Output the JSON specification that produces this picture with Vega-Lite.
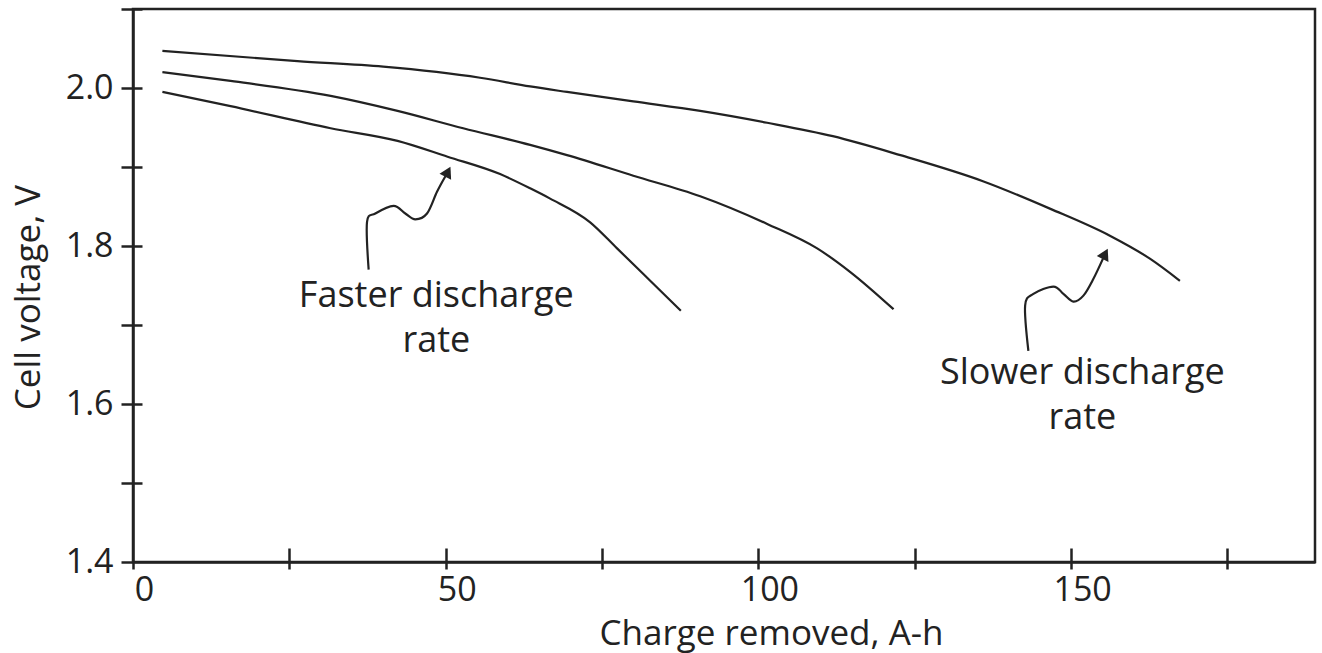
{
  "$schema": "https://vega.github.io/schema/vega-lite/v6.json",
  "width": 1182,
  "height": 553,
  "autosize": "none",
  "padding": {"left": 133, "top": 9, "right": 7, "bottom": 91},
  "background": "white",
  "config": {
    "view": {"stroke": "#222", "strokeWidth": 2.5},
    "font": "Open Sans",
    "axis": {
      "labelFont": "Open Sans", "labelFontSize": 34, "labelColor": "#222",
      "titleFont": "Open Sans", "titleFontSize": 35, "titleFontWeight": "normal", "titleColor": "#222",
      "tickColor": "#222", "tickWidth": 2.5, "domainColor": "#222", "domainWidth": 2.5,
      "grid": false, "labelOverlap": false, "labelFlush": false
    }
  },
  "datasets": {
    "curves": [
      {"series": "Slow", "x": 4.7, "y": 2.047},
      {"series": "Slow", "x": 26.3, "y": 2.034},
      {"series": "Slow", "x": 40.0, "y": 2.027},
      {"series": "Slow", "x": 55.5, "y": 2.013},
      {"series": "Slow", "x": 63.5, "y": 2.002},
      {"series": "Slow", "x": 69.4, "y": 1.995},
      {"series": "Slow", "x": 80.0, "y": 1.983},
      {"series": "Slow", "x": 90.7, "y": 1.971},
      {"series": "Slow", "x": 101.4, "y": 1.956},
      {"series": "Slow", "x": 111.9, "y": 1.939},
      {"series": "Slow", "x": 122.7, "y": 1.915},
      {"series": "Slow", "x": 135.9, "y": 1.882},
      {"series": "Slow", "x": 146.7, "y": 1.847},
      {"series": "Slow", "x": 156.2, "y": 1.813},
      {"series": "Slow", "x": 162.6, "y": 1.784},
      {"series": "Slow", "x": 167.4, "y": 1.756},
      {"series": "Mid", "x": 4.7, "y": 2.020},
      {"series": "Mid", "x": 15.6, "y": 2.009},
      {"series": "Mid", "x": 31.6, "y": 1.990},
      {"series": "Mid", "x": 42.3, "y": 1.971},
      {"series": "Mid", "x": 52.8, "y": 1.949},
      {"series": "Mid", "x": 63.5, "y": 1.928},
      {"series": "Mid", "x": 69.4, "y": 1.915},
      {"series": "Mid", "x": 80.0, "y": 1.889},
      {"series": "Mid", "x": 90.7, "y": 1.863},
      {"series": "Mid", "x": 101.4, "y": 1.828},
      {"series": "Mid", "x": 109.4, "y": 1.797},
      {"series": "Mid", "x": 114.7, "y": 1.767},
      {"series": "Mid", "x": 121.6, "y": 1.720},
      {"series": "Fast", "x": 4.7, "y": 1.995},
      {"series": "Fast", "x": 15.6, "y": 1.977},
      {"series": "Fast", "x": 31.6, "y": 1.949},
      {"series": "Fast", "x": 42.3, "y": 1.933},
      {"series": "Fast", "x": 50.3, "y": 1.913},
      {"series": "Fast", "x": 58.7, "y": 1.891},
      {"series": "Fast", "x": 63.5, "y": 1.873},
      {"series": "Fast", "x": 66.7, "y": 1.860},
      {"series": "Fast", "x": 73.1, "y": 1.830},
      {"series": "Fast", "x": 77.4, "y": 1.797},
      {"series": "Fast", "x": 82.7, "y": 1.756},
      {"series": "Fast", "x": 87.6, "y": 1.718}
    ],
    "arrows": [
      {"arrow": "A", "i": 0, "x": 37.68, "y": 1.770},
      {"arrow": "A", "i": 1, "x": 37.42, "y": 1.8305},
      {"arrow": "A", "i": 2, "x": 38.75, "y": 1.8411},
      {"arrow": "A", "i": 3, "x": 41.67, "y": 1.8509},
      {"arrow": "A", "i": 4, "x": 43.54, "y": 1.8411},
      {"arrow": "A", "i": 5, "x": 45.14, "y": 1.8338},
      {"arrow": "A", "i": 6, "x": 47.01, "y": 1.8411},
      {"arrow": "A", "i": 7, "x": 48.61, "y": 1.8687},
      {"arrow": "A", "i": 8, "x": 50.0, "y": 1.889},
      {"arrow": "B", "i": 0, "x": 143.17, "y": 1.6673},
      {"arrow": "B", "i": 1, "x": 142.65, "y": 1.7245},
      {"arrow": "B", "i": 2, "x": 143.97, "y": 1.7394},
      {"arrow": "B", "i": 3, "x": 147.17, "y": 1.7487},
      {"arrow": "B", "i": 4, "x": 148.77, "y": 1.7394},
      {"arrow": "B", "i": 5, "x": 150.37, "y": 1.7296},
      {"arrow": "B", "i": 6, "x": 151.97, "y": 1.7372},
      {"arrow": "B", "i": 7, "x": 153.57, "y": 1.7585},
      {"arrow": "B", "i": 8, "x": 155.1, "y": 1.784}
    ],
    "heads": [
      {"arrow": "A", "x": 50.35, "y": 1.894},
      {"arrow": "B", "x": 155.45, "y": 1.790}
    ],
    "labels": [
      {"x": 48.5, "y": 1.723, "text": "Faster discharge\nrate"},
      {"x": 151.8, "y": 1.625, "text": "Slower discharge\nrate"}
    ]
  },
  "resolve": {"axis": {"x": "independent", "y": "independent"}},
  "layer": [
    {
      "data": {"name": "curves"},
      "mark": {"type": "line", "color": "#222", "strokeWidth": 2.2, "interpolate": "monotone"},
      "encoding": {
        "x": {
          "field": "x", "type": "quantitative",
          "scale": {"domain": [0, 189], "nice": false, "zero": false},
          "axis": {
            "orient": "bottom",
            "values": [0, 25, 50, 75, 100, 125, 150, 175],
            "tickSize": 7, "labelPadding": 4, "labelOffset": 11,
            "labelExpr": "datum.value % 50 === 0 ? format(datum.value, 'd') : ''",
            "title": "Charge removed, A-h",
            "titleX": 638, "titleY": 54, "titleBaseline": "top", "titleAlign": "center"
          }
        },
        "y": {
          "field": "y", "type": "quantitative",
          "scale": {"domain": [1.4, 2.1], "nice": false, "zero": false},
          "axis": {
            "orient": "left",
            "values": [1.4, 1.5, 1.6, 1.7, 1.8, 1.9, 2.0, 2.1],
            "tickSize": 12, "labelPadding": 8,
            "labelExpr": "indexof(['1.4','1.6','1.8','2.0'], format(datum.value, '.1f')) >= 0 ? format(datum.value, '.1f') : ''",
            "title": "Cell voltage, V",
            "titleAngle": 270, "titleBaseline": "top", "titleAlign": "center",
            "titleX": -122, "titleY": 288
          }
        },
        "detail": {"field": "series"}
      }
    },
    {
      "data": {"name": "arrows"},
      "mark": {"type": "line", "color": "#222", "strokeWidth": 2.2, "interpolate": "cardinal"},
      "encoding": {
        "x": {
          "field": "x", "type": "quantitative",
          "axis": {
            "orient": "bottom", "offset": -14, "tickSize": 14,
            "values": [25, 50, 75, 100, 125, 150, 175],
            "labels": false, "domain": false, "title": null
          }
        },
        "y": {
          "field": "y", "type": "quantitative",
          "axis": {
            "orient": "left", "offset": -9, "tickSize": 9,
            "values": [1.5, 1.6, 1.7, 1.8, 1.9, 2.0, 2.1],
            "labels": false, "domain": false, "title": null
          }
        },
        "detail": {"field": "arrow"},
        "order": {"field": "i", "type": "quantitative"}
      }
    },
    {
      "data": {"name": "heads"},
      "mark": {"type": "point", "shape": "triangle-up", "filled": true, "color": "#222", "opacity": 1, "size": 170, "angle": 27},
      "encoding": {
        "x": {"field": "x", "type": "quantitative", "axis": null},
        "y": {"field": "y", "type": "quantitative", "axis": null}
      }
    },
    {
      "data": {"name": "labels"},
      "mark": {"type": "text", "font": "Open Sans", "fontSize": 36, "color": "#222", "align": "center", "baseline": "alphabetic", "lineBreak": "\n", "lineHeight": 45},
      "encoding": {
        "x": {"field": "x", "type": "quantitative", "axis": null},
        "y": {"field": "y", "type": "quantitative", "axis": null},
        "text": {"field": "text"}
      }
    }
  ]
}
